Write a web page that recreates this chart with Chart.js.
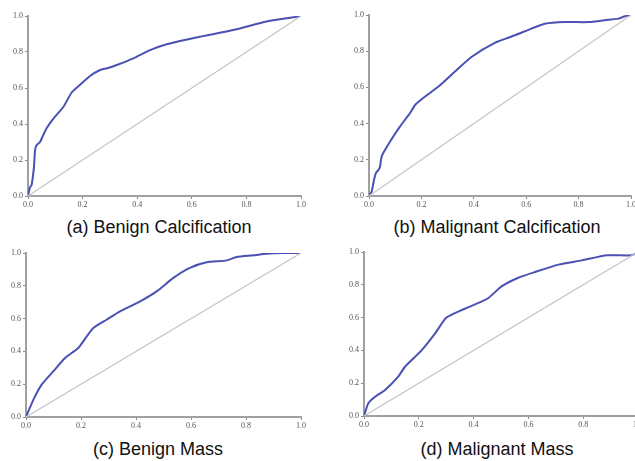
<!DOCTYPE html>
<html>
<head>
<meta charset="utf-8">
<script src="https://cdn.jsdelivr.net/npm/chart.js@4.4.0/dist/chart.umd.min.js"></script>
<style>
  body { margin: 0; width: 635px; height: 461px; overflow: hidden; background: #fff; position: relative; }
  .panel { position: absolute; }
  .caption { position: absolute; width: 300px; text-align: center; white-space: nowrap;
    font-family: "Liberation Sans Narrow", "Liberation Sans", Arial, sans-serif; font-size: 18px; color: #111; }
</style>
</head>
<body>
<script>
'use strict'

// ---------- data ----------
const tickValues = [0, 0.2, 0.4, 0.6, 0.8, 1.0];
const chanceX = [0, 1];
const chanceY = [0, 1];

const benignCalcFpr = [0, 0.007, 0.013, 0.017, 0.022, 0.026, 0.032, 0.044, 0.056, 0.068, 0.093, 0.13, 0.16, 0.19, 0.227, 0.264, 0.29, 0.325, 0.386, 0.447, 0.508, 0.63, 0.752, 0.874, 0.947, 1.0];
const benignCalcTpr = [0, 0.048, 0.06, 0.098, 0.163, 0.256, 0.283, 0.30, 0.339, 0.376, 0.43, 0.496, 0.575, 0.617, 0.667, 0.70, 0.71, 0.728, 0.765, 0.81, 0.843, 0.885, 0.922, 0.969, 0.987, 1.0];

const malignantCalcFpr = [0, 0.010, 0.019, 0.027, 0.036, 0.042, 0.048, 0.061, 0.08, 0.118, 0.156, 0.176, 0.213, 0.264, 0.327, 0.391, 0.48, 0.557, 0.62, 0.671, 0.748, 0.837, 0.913, 0.952, 0.977, 1.0];
const malignantCalcTpr = [0, 0.024, 0.088, 0.129, 0.144, 0.162, 0.217, 0.254, 0.30, 0.383, 0.457, 0.503, 0.548, 0.603, 0.686, 0.768, 0.846, 0.888, 0.925, 0.952, 0.961, 0.961, 0.974, 0.98, 0.993, 1.0];

const benignMassFpr = [0, 0.027, 0.057, 0.099, 0.142, 0.19, 0.221, 0.245, 0.293, 0.342, 0.415, 0.475, 0.536, 0.596, 0.657, 0.73, 0.766, 0.827, 0.875, 0.936, 1.0];
const benignMassTpr = [0, 0.106, 0.197, 0.278, 0.36, 0.421, 0.492, 0.543, 0.593, 0.644, 0.705, 0.766, 0.848, 0.909, 0.943, 0.955, 0.976, 0.986, 0.996, 1.0, 1.0];

const malignantMassFpr = [0, 0.015, 0.039, 0.076, 0.124, 0.149, 0.21, 0.259, 0.301, 0.368, 0.45, 0.502, 0.563, 0.624, 0.71, 0.795, 0.887, 0.978, 1.0];
const malignantMassTpr = [0, 0.075, 0.116, 0.157, 0.238, 0.299, 0.40, 0.502, 0.6, 0.654, 0.715, 0.79, 0.843, 0.878, 0.923, 0.949, 0.98, 0.98, 1.0];

const captions = ['(a) Benign Calcification', '(b) Malignant Calcification', '(c) Benign Mass', '(d) Malignant Mass'];

// ---------- layout (page pixels) ----------
// canvas box [left, top, width, height], plot box [left, top, right, bottom], caption [centerX, top]
const panels = [
  { fpr: benignCalcFpr, tpr: benignCalcTpr, box: [0, 0, 318, 214], plot: [28, 16, 301, 196], cap: [159, 217] },
  { fpr: malignantCalcFpr, tpr: malignantCalcTpr, box: [318, 0, 322, 214], plot: [369, 15, 631, 196], cap: [497, 217] },
  { fpr: benignMassFpr, tpr: benignMassTpr, box: [0, 232, 318, 200], plot: [26, 253, 301, 417], cap: [158, 439] },
  { fpr: malignantMassFpr, tpr: malignantMassTpr, box: [318, 232, 330, 200], plot: [364, 252, 638, 416], cap: [497, 439] }
];

function toPoints(xs, ys) {
  return xs.map((x, i) => ({ x: x, y: ys[i] }));
}

function axisOptions(isX, size) {
  return {
    type: 'linear',
    min: 0,
    max: 1,
    afterBuildTicks: (scale) => { scale.ticks = tickValues.map(v => ({ value: v })); },
    afterFit: (scale) => { if (isX) { scale.height = size; } else { scale.width = size; } },
    grid: { drawOnChartArea: false, drawTicks: true, tickLength: 3, color: '#8a8a8a', lineWidth: 1 },
    border: { color: '#a0a0a0', width: 2 },
    ticks: {
      autoSkip: false,
      maxRotation: 0,
      padding: isX ? 1 : 2,
      color: '#555',
      font: { family: '"Liberation Serif", "DejaVu Serif", serif', size: 8 },
      callback: (v) => Number(v).toFixed(1)
    }
  };
}

function makePanel(p, idx) {
  const [cx, cy, cw, ch] = p.box;
  const [l, t, r, b] = p.plot;

  const div = document.createElement('div');
  div.className = 'panel';
  div.style.left = cx + 'px';
  div.style.top = cy + 'px';
  div.style.width = cw + 'px';
  div.style.height = ch + 'px';
  const canvas = document.createElement('canvas');
  canvas.width = cw;
  canvas.height = ch;
  div.appendChild(canvas);
  document.body.appendChild(div);

  const cap = document.createElement('div');
  cap.className = 'caption';
  cap.textContent = captions[idx];
  cap.style.left = (p.cap[0] - 150) + 'px';
  cap.style.top = p.cap[1] + 'px';
  document.body.appendChild(cap);

  new Chart(canvas, {
    type: 'line',
    data: {
      datasets: [
        {
          label: 'chance',
          data: toPoints(chanceX, chanceY),
          borderColor: '#c8c8c8',
          borderWidth: 1.3,
          pointRadius: 0
        },
        {
          label: 'ROC',
          data: toPoints(p.fpr, p.tpr),
          borderColor: '#4b50b3',
          borderWidth: 2,
          pointRadius: 0,
          tension: 0.2
        }
      ]
    },
    options: {
      responsive: false,
      animation: false,
      devicePixelRatio: 1,
      layout: { padding: { left: 0, top: t - cy, right: cx + cw - r, bottom: 0 } },
      plugins: { legend: { display: false }, tooltip: { enabled: false } },
      scales: {
        x: axisOptions(true, cy + ch - b),
        y: axisOptions(false, l - cx)
      }
    }
  });
}

panels.forEach(makePanel);
</script>
</body>
</html>
